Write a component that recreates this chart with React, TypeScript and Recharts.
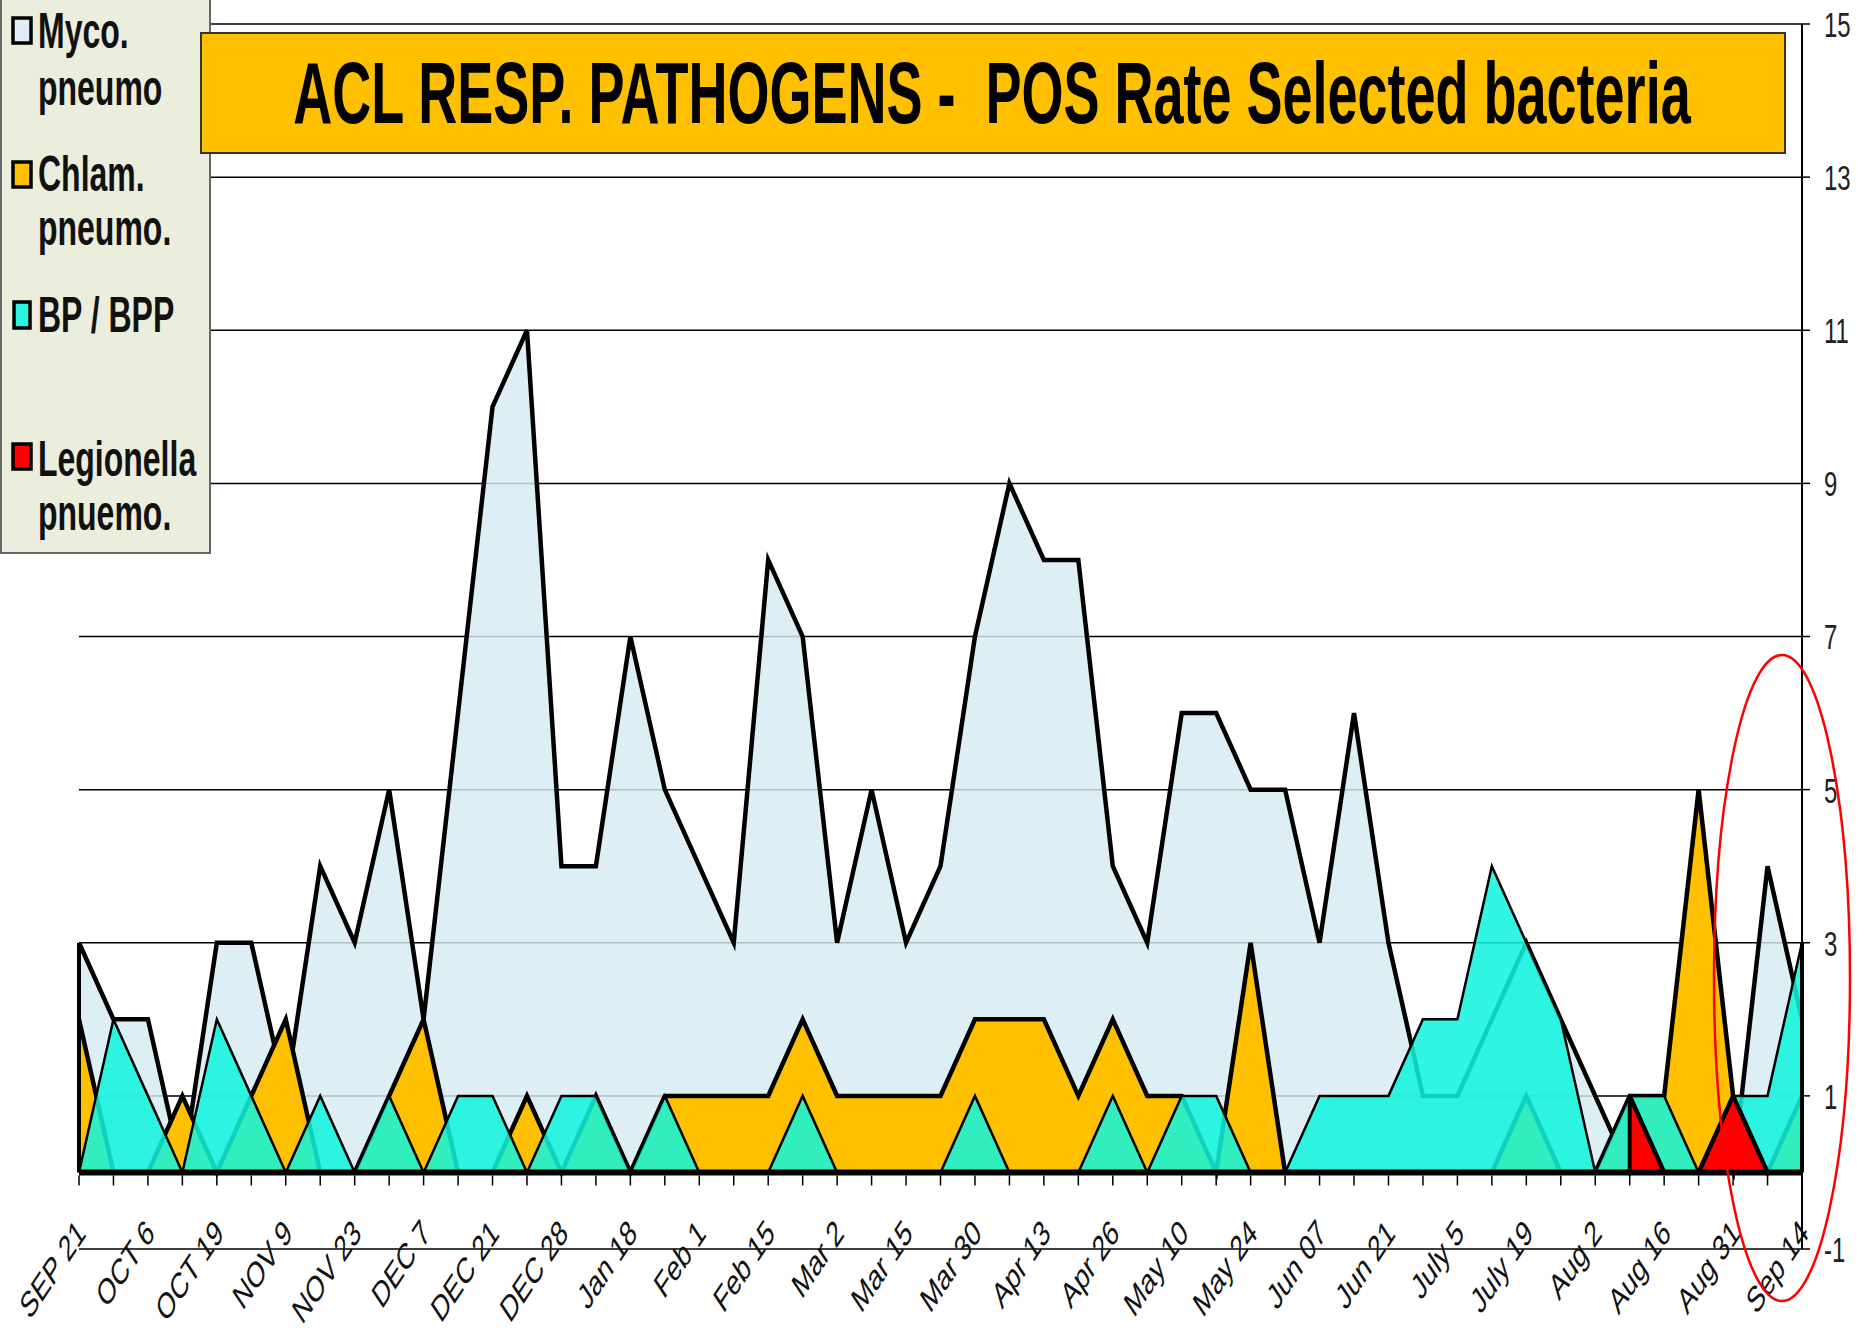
import React from "react";
import { AreaChart, Area, XAxis, YAxis, CartesianGrid, ReferenceLine } from "recharts";

const W = 1875;
const H = 1335;
const TOP = 24;
const LEFT = 79;
const X_AXIS_H = 86;
const Y_AXIS_W = 73;
// one y unit in px (domain -1..15)
const UNIT = (H - TOP - X_AXIS_H) / 16;
const FONT = "'Liberation Sans', Arial, sans-serif";

// labels shown on every other week
const dateLabels = [
  "SEP 21", "OCT 6", "OCT 19", "NOV 9", "NOV 23", "DEC 7", "DEC 21", "DEC 28",
  "Jan 18", "Feb 1", "Feb 15", "Mar 2", "Mar 15", "Mar 30", "Apr 13", "Apr 26",
  "May 10", "May 24", "Jun 07", "Jun 21", "July 5", "July 19", "Aug 2", "Aug 16",
  "Aug 31", "Sep 14",
];

const weeks = Array.from({ length: 51 }, (_, i) => i);

const myco = [
  3, 2, 2, 0, 3, 3, 1, 4, 3, 5,
  2, 6, 10, 11, 4, 4, 7, 5, 4, 3,
  8, 7, 3, 5, 3, 4, 7, 9, 8, 8,
  4, 3, 6, 6, 5, 5, 3, 6, 3, 1,
  1, 2, 3, 2, 1, 0, 1, 1, 0, 4,
  2,
];

const chlam = [
  2, 0, 0, 1, 0, 1, 2, 0, 0, 1,
  2, 0, 0, 1, 0, 1, 0, 1, 1, 1,
  1, 2, 1, 1, 1, 1, 2, 2, 2, 1,
  2, 1, 1, 0, 3, 0, 0, 0, 0, 0,
  0, 0, 1, 0, 0, 1, 1, 5, 1, 0,
  1,
];

const bp = [
  0, 2, 1, 0, 2, 1, 0, 1, 0, 1,
  0, 1, 1, 0, 1, 1, 0, 1, 0, 0,
  0, 1, 0, 0, 0, 0, 1, 0, 0, 0,
  1, 0, 1, 1, 0, 0, 1, 1, 1, 2,
  2, 4, 3, 2, 0, 1, 1, 0, 1, 1,
  3,
];

const legion: (number | null)[] = [
  null, null, null, null, null, null, null, null, null, null,
  null, null, null, null, null, null, null, null, null, null,
  null, null, null, null, null, null, null, null, null, null,
  null, null, null, null, null, null, null, null, null, null,
  null, null, null, null, null, 1, 0, 0, 1, 0,
  0,
];

const yTicks = [-1, 1, 3, 5, 7, 9, 11, 13, 15];

const data = weeks.map((w, i) => ({
  week: w,
  myco: myco[i],
  chlam: chlam[i],
  bp: bp[i],
  legion: legion[i],
}));

const legendItems = [
  { lines: ["Myco.", "pneumo"], color: "#DDEEF4", box: [13, 18, 18, 25], base: [48, 105] },
  { lines: ["Chlam.", "pneumo."], color: "#FFC000", box: [13, 162, 18, 25], base: [191, 245] },
  { lines: ["BP / BPP"], color: "#2AF5DF", box: [14, 302, 16, 26], base: [332] },
  { lines: ["Legionella", "pnuemo."], color: "#FF0000", box: [13, 444, 18, 25], base: [476, 530] },
];

function XTick(props: any) {
  const { x, y, payload } = props;
  const i = payload.value as number;
  const y0 = y - UNIT;
  return (
    <g>
      <line x1={x} x2={x} y1={y0 + 3} y2={y0 + 13} stroke="#000" strokeWidth={1.5} />
      {i % 2 === 0 && (
        <text
          transform={`translate(${x + 8},${y - 14}) scale(1,1.5) rotate(-45)`}
          textAnchor="end"
          fontSize={24}
          fill="#111"
          fontFamily={FONT}
        >
          {dateLabels[i / 2]}
        </text>
      )}
    </g>
  );
}

function YTick(props: any) {
  const { x, y, payload } = props;
  return (
    <text
      transform={`translate(${x},${y}) scale(1,1.5)`}
      dy="0.36em"
      fontSize={24}
      fill="#222"
      fontFamily={FONT}
    >
      {payload.value}
    </text>
  );
}

export default function App() {
  return (
    <div style={{ position: "absolute", left: 0, top: 0, width: W, height: H, background: "#fff" }}>
      <AreaChart
        width={W}
        height={H}
        data={data}
        margin={{ top: TOP, right: 0, bottom: 0, left: LEFT }}
      >
        <CartesianGrid vertical={false} stroke="#000" strokeWidth={1.5} />
        <XAxis
          dataKey="week"
          interval={0}
          axisLine={false}
          tickLine={false}
          tickSize={0}
          tickMargin={0}
          height={X_AXIS_H}
          tick={<XTick />}
        />
        <YAxis
          orientation="right"
          type="number"
          domain={[-1, 15]}
          ticks={yTicks}
          interval={0}
          allowDataOverflow
          width={Y_AXIS_W}
          axisLine={{ stroke: "#000", strokeWidth: 2 }}
          tickLine={{ stroke: "#000", strokeWidth: 1.5 }}
          tickSize={8}
          tickMargin={14}
          tick={<YTick />}
        />
        <Area
          type="linear"
          dataKey="myco"
          baseValue={0}
          stroke="#000"
          strokeWidth={4.5}
          fill="#D6EBF3"
          fillOpacity={0.82}
          dot={false}
          activeDot={false}
          isAnimationActive={false}
        />
        <Area
          type="linear"
          dataKey="chlam"
          baseValue={0}
          stroke="#000"
          strokeWidth={4.5}
          fill="#FFC000"
          fillOpacity={1}
          dot={false}
          activeDot={false}
          isAnimationActive={false}
        />
        <Area
          type="linear"
          dataKey="bp"
          baseValue={0}
          stroke="#000"
          strokeWidth={2.5}
          fill="#10F5DC"
          fillOpacity={0.86}
          dot={false}
          activeDot={false}
          isAnimationActive={false}
        />
        <Area
          type="linear"
          dataKey="legion"
          baseValue={0}
          stroke="#000"
          strokeWidth={4.5}
          fill="#FF0000"
          fillOpacity={1}
          dot={false}
          activeDot={false}
          isAnimationActive={false}
        />
        <ReferenceLine y={0} stroke="#000" strokeWidth={6} />
        <ReferenceLine
          segment={[{ x: weeks[0], y: 0 }, { x: weeks[0], y: myco[0] }]}
          stroke="#000"
          strokeWidth={4}
        />
        <ReferenceLine
          segment={[{ x: weeks[50], y: 0 }, { x: weeks[50], y: Math.max(myco[50], chlam[50], bp[50]) }]}
          stroke="#000"
          strokeWidth={4}
        />
        <ReferenceLine
          segment={[{ x: weeks[45], y: 0 }, { x: weeks[45], y: legion[45] as number }]}
          stroke="#000"
          strokeWidth={4}
        />
      </AreaChart>

      <svg
        width={W}
        height={H}
        style={{ position: "absolute", left: 0, top: 0, pointerEvents: "none" }}
      >
        <rect x={1} y={-2} width={209} height={555} fill="#EBEEDC" stroke="#666" strokeWidth={2} />
        {legendItems.map((it) => (
          <g key={it.lines[0]}>
            <rect
              x={it.box[0]}
              y={it.box[1]}
              width={it.box[2]}
              height={it.box[3]}
              fill={it.color}
              stroke="#000"
              strokeWidth={3.5}
            />
            {it.lines.map((ln, k) => (
              <text
                key={ln}
                transform={`translate(38,${it.base[k]}) scale(1,1.55)`}
                fontSize={32}
                fontWeight="bold"
                fill="#111"
                fontFamily={FONT}
              >
                {ln}
              </text>
            ))}
          </g>
        ))}

        <rect x={201} y={33} width={1584} height={120} fill="#FFC000" stroke="#333" strokeWidth={2} />
        <text
          transform="translate(992,123) scale(1,1.62)"
          textAnchor="middle"
          fontSize={54}
          fontWeight="bold"
          fill="#000"
          fontFamily={FONT}
          style={{ whiteSpace: "pre" }}
        >
          {"ACL RESP. PATHOGENS -  POS Rate Selected bacteria"}
        </text>

        <ellipse cx={1782} cy={978} rx={68} ry={323} fill="none" stroke="#FF0000" strokeWidth={2.5} />
      </svg>
    </div>
  );
}
